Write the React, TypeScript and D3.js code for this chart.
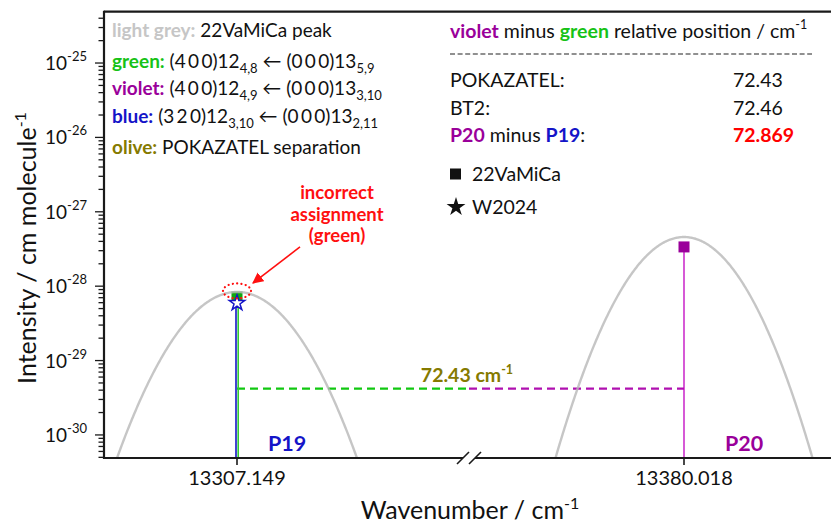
import React from "react";
import * as d3 from "d3";

// ---- data ----
const xTickValues = [13307.149, 13380.018];
const xTickLabels = ["13307.149", "13380.018"];
const yTickExponents = [-30, -29, -28, -27, -26, -25];

const peakCenters = [13307.149, 13380.018];
const peakIntensities = [8.36e-29, 4.58e-28];
const peakHWHM = [0.00881, 0.00818];
const peakLabels = ["P19", "P20"];

const stickNames = ["green", "blue", "violet"];
const stickPositions = [13307.149, 13307.149, 13380.018];
const stickIntensities = [7.16e-29, 5.94e-29, 3.37e-28];
const stickMarkers = ["square", "star", "square"];

const separationLevel = 4.2e-30;
const separationValue = "72.43";

const comparisonLabels = ["POKAZATEL:", "BT2:"];
const comparisonValues = ["72.43", "72.46"];
const measuredDifference = "72.869";

const leftSegmentDomain = [13307.1224, 13307.1942];
const rightSegmentDomain = [13379.9762, 13380.0474];
const yDomainExp = [-30.31, -24.31];

// ---- styles ----
const FONT = "Lato, 'Open Sans', sans-serif";
const C = {
  grey: "#c6c6c6",
  green: "#17c217",
  greenLine: "#33cc33",
  violet: "#9a009a",
  violetLine: "#c000c0",
  blue: "#1414c8",
  olive: "#857a00",
  red: "#ff1010",
  axis: "#1a1a1a",
};
const stickColors: Record<string, string> = {
  green: C.greenLine,
  blue: C.blue,
  violet: C.violetLine,
};
const markerColors: Record<string, string> = {
  green: "#10a810",
  blue: C.blue,
  violet: C.violet,
};
const stickOffsets: Record<string, number> = { green: 1.2, blue: -1, violet: 0 };

export default function App() {
  const W = 831,
    H = 523;
  const left = 104,
    top = 11.7,
    bottom = 458,
    right = 831;
  const breakL = 463,
    breakR = 475;

  const y = d3
    .scaleLog()
    .domain([Math.pow(10, yDomainExp[0]), Math.pow(10, yDomainExp[1])])
    .range([bottom, top]);
  const xL = d3.scaleLinear().domain(leftSegmentDomain).range([left, breakL]);
  const xR = d3.scaleLinear().domain(rightSegmentDomain).range([breakR, right]);
  const scales = [xL, xR];
  const xOf = (v: number) => (v < rightSegmentDomain[0] ? xL(v) : xR(v));

  const yMin = Math.pow(10, yDomainExp[0]);

  // peak profiles
  const peakPaths = peakCenters.map((c, i) => {
    const sc = scales[i];
    const h = peakHWHM[i];
    const pts = d3
      .range(0, 401)
      .map((k) => c - 4 * h + (k * 8 * h) / 400)
      .map((v) => ({ v, I: peakIntensities[i] * Math.exp(-Math.LN2 * ((v - c) / h) ** 2) }))
      .filter((p) => p.I > yMin * 0.3);
    return d3
      .line<{ v: number; I: number }>()
      .x((p) => sc(p.v))
      .y((p) => y(p.I))(pts) as string;
  });

  // y ticks
  const majors: number[] = [];
  const minors: number[] = [];
  for (let e = -31; e <= -24; e++) {
    const m = Math.pow(10, e);
    if (y(m) <= bottom + 0.1 && y(m) >= top - 0.1) majors.push(m);
    for (let k = 2; k <= 9; k++) {
      const v = k * m;
      if (y(v) <= bottom && y(v) >= top) minors.push(v);
    }
  }

  const sepY = y(separationLevel);
  const xA = xOf(xTickValues[0]);
  const xB = xOf(xTickValues[1]);
  const breakMid = (breakL + breakR) / 2;

  const star = d3.symbol().type(d3.symbolStar);

  // annotation geometry derived from the green stick
  const gx = xOf(stickPositions[0]);
  const gy = y(peakIntensities[0]);

  const fs = 19;
  const fsR = 19.5;
  const sub = 13;

  return (
    <svg
      width={W}
      height={H}
      style={{ position: "absolute", left: 0, top: 0, background: "#fff" }}
      fontFamily={FONT}
    >
      <defs>
        <clipPath id="plotClip">
          <rect x={left} y={top} width={right - left} height={bottom - top} />
        </clipPath>
        <marker id="arrowHead" viewBox="0 0 10 10" refX="9" refY="5" markerWidth="7" markerHeight="7" orient="auto">
          <path d="M0,0 L10,5 L0,10 z" fill={C.red} />
        </marker>
      </defs>

      {/* separation dashed lines */}
      <line x1={xA} x2={breakMid} y1={sepY} y2={sepY} stroke="#11c811" strokeWidth={2.4} strokeDasharray="8 5" />
      <line x1={breakMid} x2={xB} y1={sepY} y2={sepY} stroke="#b010b0" strokeWidth={2.4} strokeDasharray="8 5" />
      <text x={breakMid - 2} y={sepY - 7} textAnchor="middle" fill={C.olive} fontWeight="bold" fontSize={19.5}>
        {separationValue + " cm"}
        <tspan dy={-8} fontSize={12.5}>-1</tspan>
      </text>

      {/* sticks */}
      {stickNames.map((n, i) => {
        const x = xOf(stickPositions[i]) + stickOffsets[n];
        return (
          <line key={n} x1={x} x2={x} y1={bottom} y2={y(stickIntensities[i])} stroke={stickColors[n]} strokeWidth={n === "violet" ? 1.3 : 1.6} />
        );
      })}

      {/* markers */}
      {stickNames.map((n, i) => {
        const x = xOf(stickPositions[i]);
        const yy = y(stickIntensities[i]);
        if (stickMarkers[i] === "square") {
          return <rect key={n + "m"} x={x - 5.5} y={yy - 5.5} width={11} height={11} fill={markerColors[n]} />;
        }
        return (
          <path key={n + "m"} d={star.size(75)() as string} transform={`translate(${x},${yy})`} fill="#fff" stroke={markerColors[n]} strokeWidth={1.5} />
        );
      })}

      {/* peak profiles */}
      <g clipPath="url(#plotClip)">
        {peakPaths.map((d, i) => (
          <path key={i} d={d} fill="none" stroke="#b8b8b8" strokeOpacity={0.8} strokeWidth={2.4} />
        ))}
      </g>

      {/* peak labels */}
      <text x={xA + 31} y={451} fill={C.blue} fontWeight="bold" fontSize={21.5}>{peakLabels[0]}</text>
      <text x={xB + 41} y={451} fill={C.violet} fontWeight="bold" fontSize={21.5}>{peakLabels[1]}</text>

      {/* incorrect assignment annotation */}
      <ellipse cx={gx} cy={gy - 1} rx={14} ry={7.5} fill="none" stroke={C.red} strokeWidth={2.2} strokeDasharray="0.1 4.2" strokeLinecap="round" />
      <line x1={gx + 63} y1={gy - 45} x2={gx + 16} y2={gy - 9} stroke={C.red} strokeWidth={1.6} markerEnd="url(#arrowHead)" />
      <g fill={C.red} fontWeight="bold" fontSize={18.5} textAnchor="middle">
        <text x={gx + 100} y={gy - 93}>incorrect</text>
        <text x={gx + 100} y={gy - 71}>assignment</text>
        <text x={gx + 100} y={gy - 50}>(green)</text>
      </g>

      {/* axes frame */}
      <g stroke={C.axis} strokeWidth={2.2} fill="none">
        <line x1={left} x2={right} y1={top} y2={top} />
        <line x1={left} x2={left} y1={top - 1} y2={bottom + 1} />
        <line x1={left - 1} x2={breakL} y1={bottom} y2={bottom} />
        <line x1={breakR} x2={right} y1={bottom} y2={bottom} />
        <line x1={breakL - 6} x2={breakL + 6} y1={bottom + 6} y2={bottom - 6} strokeWidth={1.6} />
        <line x1={breakR - 6} x2={breakR + 6} y1={bottom + 6} y2={bottom - 6} strokeWidth={1.6} />
      </g>

      {/* y ticks */}
      <g stroke={C.axis} strokeWidth={1.3}>
        {majors.map((m) => (
          <line key={"M" + m} x1={left - 9} x2={left} y1={y(m)} y2={y(m)} />
        ))}
        {minors.map((m) => (
          <line key={"m" + m} x1={left - 5.5} x2={left} y1={y(m)} y2={y(m)} />
        ))}
      </g>
      <g fontSize={19} fill="#111" textAnchor="end">
        {yTickExponents.map((e) => (
          <text key={e} x={87} y={y(Math.pow(10, e)) + 7}>
            10
            <tspan dy={-9} fontSize={13}>{String(e)}</tspan>
          </text>
        ))}
      </g>

      {/* x ticks */}
      {xTickValues.map((v, i) => (
        <g key={v}>
          <line x1={xOf(v)} x2={xOf(v)} y1={bottom} y2={bottom + 7} stroke={C.axis} strokeWidth={1.6} />
          <text x={xOf(v)} y={485} textAnchor="middle" fontSize={20} fill="#111">{xTickLabels[i]}</text>
        </g>
      ))}

      {/* axis titles */}
      <text x={470} y={519} textAnchor="middle" fontSize={25} fill="#111">
        Wavenumber / cm
        <tspan dy={-10} fontSize={16}>-1</tspan>
      </text>
      <text transform="translate(36,248) rotate(-90)" textAnchor="middle" fontSize={25} fill="#111">
        Intensity / cm molecule
        <tspan dy={-10} fontSize={16}>-1</tspan>
      </text>

      {/* left legend */}
      <g fontSize={fs} fill="#111">
        <text x={112} y={37}>
          <tspan fill={C.grey} fontWeight="bold">light grey:</tspan>
          {" 22VaMiCa peak"}
        </text>
        <text x={112} y={68}>
          <tspan fill={C.green} fontWeight="bold">green:</tspan>
          {" (4\u20090\u20090)12"}
          <tspan dy={5} fontSize={sub}>4,8</tspan>
          <tspan dy={-5}>{" \u2190 (0\u20090\u20090)13"}</tspan>
          <tspan dy={5} fontSize={sub}>5,9</tspan>
        </text>
        <text x={112} y={95}>
          <tspan fill={C.violet} fontWeight="bold">violet:</tspan>
          {" (4\u20090\u20090)12"}
          <tspan dy={5} fontSize={sub}>4,9</tspan>
          <tspan dy={-5}>{" \u2190 (0\u20090\u20090)13"}</tspan>
          <tspan dy={5} fontSize={sub}>3,10</tspan>
        </text>
        <text x={112} y={123}>
          <tspan fill={C.blue} fontWeight="bold">blue:</tspan>
          {" (3\u20092\u20090)12"}
          <tspan dy={5} fontSize={sub}>3,10</tspan>
          <tspan dy={-5}>{" \u2190 (0\u20090\u20090)13"}</tspan>
          <tspan dy={5} fontSize={sub}>2,11</tspan>
        </text>
        <text x={112} y={154}>
          <tspan fill={C.olive} fontWeight="bold">olive:</tspan>
          {" POKAZATEL separation"}
        </text>
      </g>

      {/* right box */}
      <g fontSize={fsR} fill="#111">
        <text x={450} y={38}>
          <tspan fill={C.violet} fontWeight="bold">violet</tspan>
          {" minus "}
          <tspan fill={C.green} fontWeight="bold">green</tspan>
          {" relative position / cm"}
          <tspan dy={-9} fontSize={12.5}>-1</tspan>
        </text>
        <line x1={450} x2={812} y1={54} y2={54} stroke="#222" strokeWidth={1.2} strokeDasharray="5 2.6" />
        {comparisonLabels.map((l, i) => (
          <g key={l}>
            <text x={450} y={87 + i * 27.5}>{l}</text>
            <text x={733} y={87 + i * 27.5}>{comparisonValues[i]}</text>
          </g>
        ))}
        <text x={450} y={142}>
          <tspan fill={C.violet} fontWeight="bold">P20</tspan>
          {" minus "}
          <tspan fill={C.blue} fontWeight="bold">P19</tspan>
          {":"}
        </text>
        <text x={733} y={142} fill="#ff0000" fontWeight="bold">{measuredDifference}</text>
        <rect x={450} y={168.5} width={11} height={11} fill="#111" />
        <text x={472} y={181}>22VaMiCa</text>
        <path d={star.size(110)() as string} transform="translate(456,207)" fill="#111" />
        <text x={472} y={214}>W2024</text>
      </g>
    </svg>
  );
}
